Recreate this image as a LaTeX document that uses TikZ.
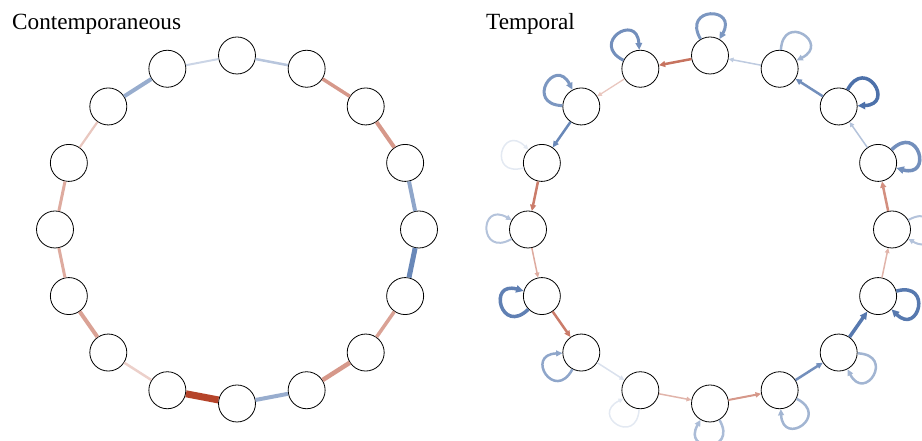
\documentclass[tikz,border=0pt]{standalone}
\usepackage{fontspec}
\setmainfont{Liberation Serif}
\usetikzlibrary{arrows.meta}

\definecolor{posedge}{RGB}{68,106,166}
\definecolor{negedge}{RGB}{181,68,42}

\begin{document}
\begin{tikzpicture}[x=1pt, y=1pt]
    \tikzstyle{vertex}=[circle,draw,line width=0.8pt,fill=white,minimum size=37pt,inner sep=0pt]
    \tikzstyle{title}=[anchor=base west,inner sep=0pt,font=\fontsize{23.2}{26}\selectfont]
    \tikzstyle{arc}=[-{Triangle[length=3pt 1.3,width=2.6pt 1.3]}]

    \useasboundingbox (0,0) rectangle (922,441);

    \node[title] (title_C) at (12,411) {Contemporaneous};
    \node[title] (title_T) at (486,411) {Temporal};

    % contemporaneous: undirected ring
    \begin{scope}[shift={(237,211.5)}]
        \foreach \i in {1,...,16}
            \node[vertex] (C_\i) at ({90+22.5*(\i-1)}:182 and 174) {};
        \foreach \a/\b/\col/\w in {1/2/posedge!28/2, 2/3/posedge!55/4, 3/4/negedge!30/2.2,
                4/5/negedge!45/3, 5/6/negedge!45/3, 6/7/negedge!50/4, 7/8/negedge!25/2.5,
                8/9/negedge/7, 9/10/posedge!55/4, 10/11/negedge!55/4.5, 11/12/negedge!50/3.5,
                12/13/posedge!80/5, 13/14/posedge!60/4, 14/15/negedge!55/4,
                15/16/negedge!55/3.5, 16/1/posedge!38/2.5}
            \draw[color=\col, line width=\w pt] (C_\a) -- (C_\b);
    \end{scope}

    % temporal: directed ring plus self loops
    \begin{scope}[shift={(710,211.5)}]
        \foreach \i in {1,...,16}
            \node[vertex] (T_\i) at ({90+22.5*(\i-1)}:182 and 174) {};
        \foreach \a/\b/\col/\w in {1/2/negedge!75/2.5, 2/3/negedge!30/1.3, 3/4/posedge!80/2.5,
                4/5/negedge!70/2.5, 5/6/negedge!45/1.5, 6/7/negedge!70/2.5, 7/8/posedge!20/1.5,
                8/9/negedge!40/1.5, 9/10/negedge!55/2, 10/11/posedge!75/2.5,
                11/12/posedge!90/3.5, 12/13/negedge!40/1.5, 13/14/negedge!60/2.5,
                14/15/posedge!40/1.5, 15/16/posedge!75/2.5, 16/1/posedge!35/1.5}
            \draw[arc, color=\col, line width=\w pt] (T_\a) -- (T_\b);
        % loops lean a little towards the horizontal
        \foreach \i/\col/\w in {1/posedge!70/3, 2/posedge!75/3, 3/posedge!70/3, 4/posedge!15/1.5,
                5/posedge!40/2, 6/posedge!85/3.5, 7/posedge!60/2.5, 8/posedge!15/1.5,
                9/posedge!45/2.5, 10/posedge!50/2.5, 11/posedge!50/2.5, 12/posedge!90/3.5,
                13/posedge!40/2, 14/posedge!75/3.5, 15/posedge!95/3.5, 16/posedge!50/2.5}
        {
            \pgfmathsetmacro\dir{atan2(sin(90+22.5*(\i-1)),1.6*cos(90+22.5*(\i-1)))}
            \pgfmathsetmacro\lo{mod(\dir+30+360,360)}
            \pgfmathsetmacro\li{mod(\dir-30+360,360)}
            \draw[arc, color=\col, line width=\w pt] (T_\i) to[out=\lo, in=\li, min distance=38pt] (T_\i);
        }
    \end{scope}
\end{tikzpicture}
\end{document}
